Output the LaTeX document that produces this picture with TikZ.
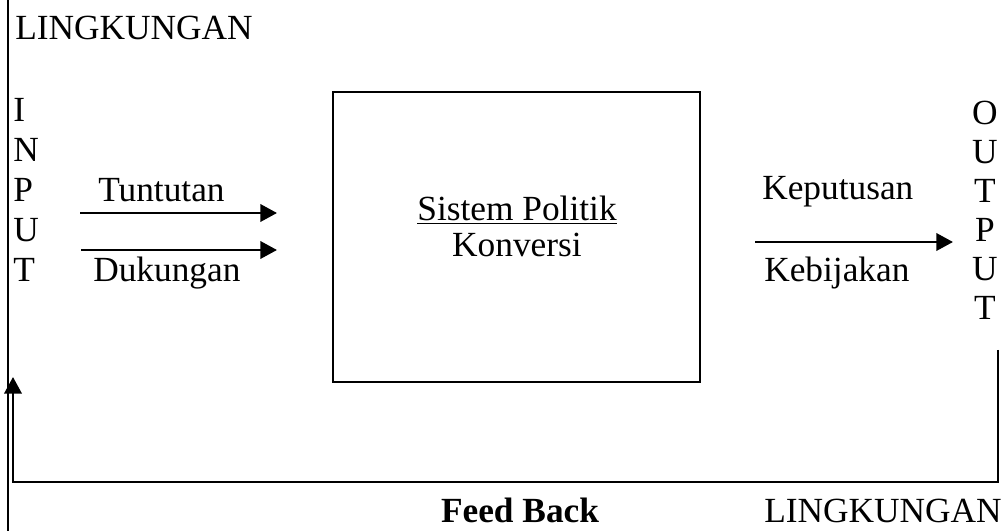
\documentclass[tikz,border=0pt]{standalone}
\usepackage{fontspec}
\setmainfont{Liberation Serif}
\usetikzlibrary{
  arrows.meta,
  positioning
}

\begin{document}
\begin{tikzpicture}[
            x=0.75pt, y=-0.75pt,
            font=\fontsize{26.5}{29.5}\selectfont,
            txt/.style={inner sep=0pt},
            sistembox/.style={rectangle, draw=black, line width=1.9pt, minimum width=275pt, minimum height=217.5pt},
            arrow/.style={line width=2pt, -{Triangle[length=12.5pt, width=13pt]}},
            border/.style={line width=1.7pt}
        ]
        \useasboundingbox (0,0) rectangle (1008,531);

        % Titik bantu
        \coordinate (borderTop) at (8,0);
        \coordinate (borderBot) at (8,531);
        \coordinate (tuntStart) at (80,213);
        \coordinate (tuntEnd) at (277,213);
        \coordinate (dukStart) at (81,250);
        \coordinate (dukEnd) at (277,250);
        \coordinate (kepStart) at (755,242);
        \coordinate (kepEnd) at (953,242);
        \coordinate (fbTop) at (998,350);
        \coordinate (fbBase) at (13,482);
        \coordinate (fbTip) at (13,377);

        % Node
        \node (lingkTop) [txt, anchor=base west] at (15,40) {LINGKUNGAN};
        \foreach \ch [count=\i] in {I,N,P,U,T}
            \node (in\i) [txt, anchor=base west] at (13,82+40*\i) {\ch};
        \foreach \ch [count=\i] in {O,U,T,P,U,T}
            \node (out\i) [txt, anchor=base] at (985,86+39*\i) {\ch};

        \node (tuntutan) [txt, anchor=base west] at (98,202) {Tuntutan};
        \node (dukungan) [txt, anchor=base west] at (93,282) {Dukungan};

        \node (sistem) [sistembox] at (516.5,237) {};
        \node (sistemTxt) [txt, anchor=base] at (517,221) {\underline{Sistem Politik}};
        \node (konversi) [txt, anchor=base] at (517,257) {Konversi};

        \node (keputusan) [txt, anchor=base west] at (762,200) {Keputusan};
        \node (kebijakan) [txt, anchor=base west] at (764,282) {Kebijakan};

        \node (feedback) [txt, anchor=base, font=\fontsize{26.5}{29.5}\selectfont\bfseries] at (520,522) {Feed Back};
        \node (lingkBot) [txt, anchor=base east] at (1002,522) {LINGKUNGAN};

        % Garis dan panah
        \draw [border] (borderTop) -- (borderBot);
        \draw [arrow] (tuntStart) -- (tuntEnd);
        \draw [arrow] (dukStart) -- (dukEnd);
        \draw [arrow] (kepStart) -- (kepEnd);

        % Umpan balik kembali ke input
        \draw [arrow] (fbTop) |- (fbBase) -- (fbTip);

    \end{tikzpicture}
\end{document}
